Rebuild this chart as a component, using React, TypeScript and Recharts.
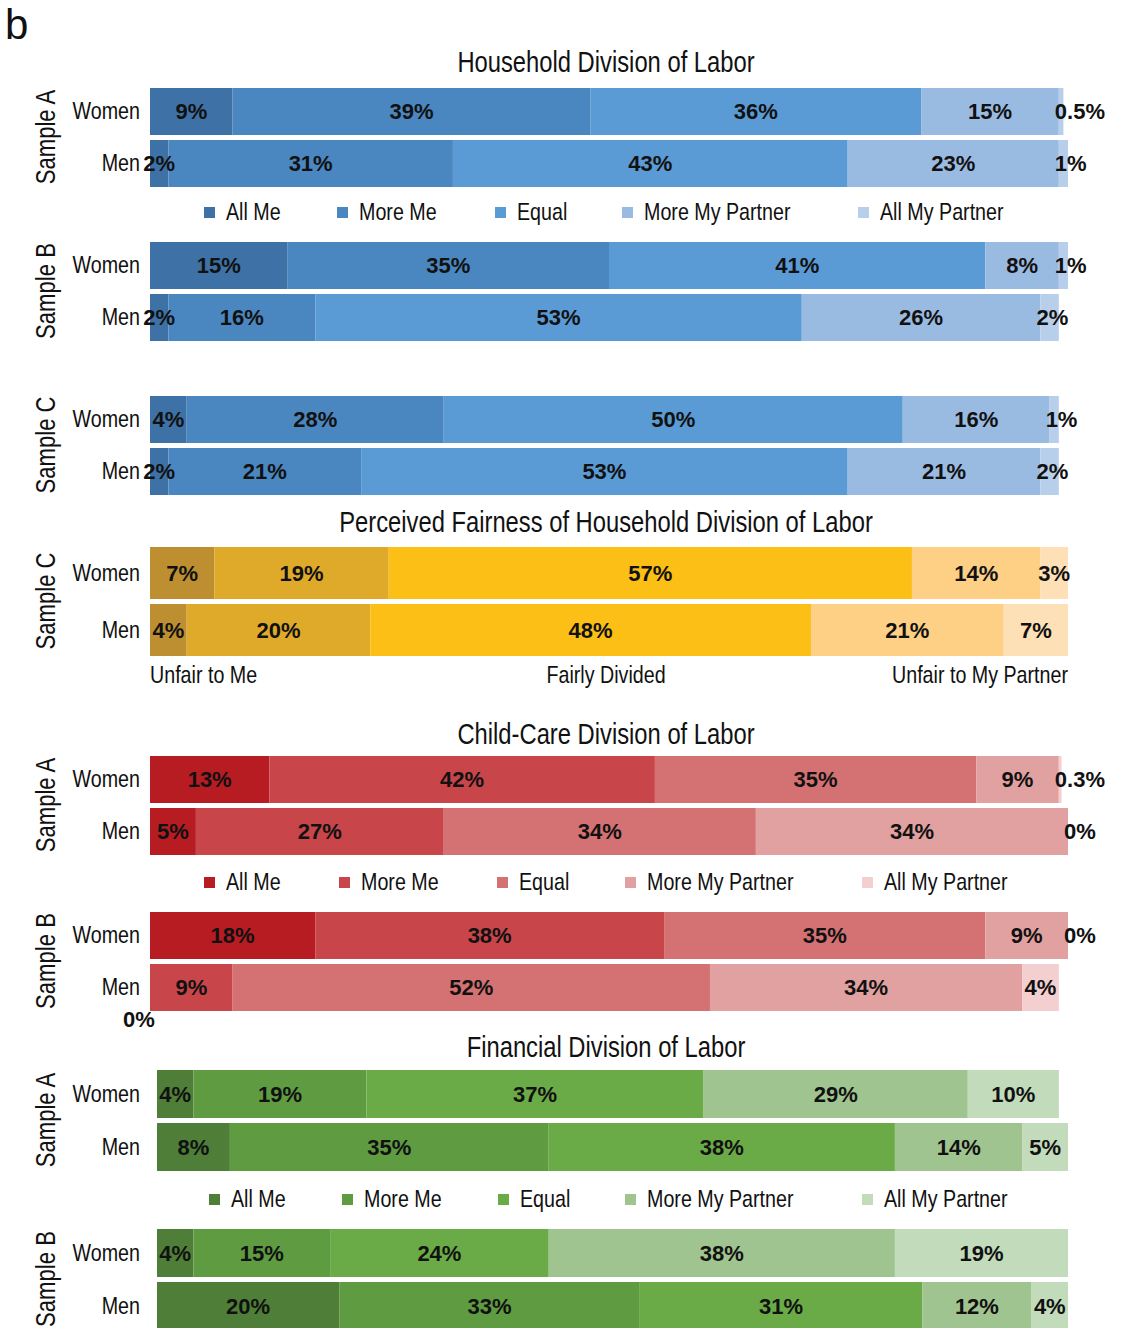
import React from "react";
import { BarChart, Bar, XAxis, YAxis, LabelList } from "recharts";

// ---- categories & labels ----
const groups = ["Women", "Men"];
const answerLabels = ["All Me", "More Me", "Equal", "More My Partner", "All My Partner"];
const fairnessAxisLabels = ["Unfair to Me", "Fairly Divided", "Unfair to My Partner"];
const sectionTitles = [
  "Household Division of Labor",
  "Perceived Fairness of Household Division of Labor",
  "Child-Care Division of Labor",
  "Financial Division of Labor",
];

// ---- household division of labor (%) ----
const householdAWomen = [9, 39, 36, 15, 0.5];
const householdAMen = [2, 31, 43, 23, 1];
const householdBWomen = [15, 35, 41, 8, 1];
const householdBMen = [2, 16, 53, 26, 2];
const householdCWomen = [4, 28, 50, 16, 1];
const householdCMen = [2, 21, 53, 21, 2];

// ---- perceived fairness (%) ----
const fairnessCWomen = [7, 19, 57, 14, 3];
const fairnessCMen = [4, 20, 48, 21, 7];

// ---- child-care division of labor (%) ----
const childAWomen = [13, 42, 35, 9, 0.3];
const childAMen = [5, 27, 34, 34, 0];
const childBWomen = [18, 38, 35, 9, 0];
const childBMen = [0, 9, 52, 34, 4];

// ---- financial division of labor (%) ----
const financialAWomen = [4, 19, 37, 29, 10];
const financialAMen = [8, 35, 38, 14, 5];
const financialBWomen = [4, 15, 24, 38, 19];
const financialBMen = [20, 33, 31, 12, 4];

// ---- palettes ----
const blue = ["#3e72a6", "#4a87c1", "#5b9bd5", "#9abbe1", "#b8cfec"];
const gold = ["#bd8f31", "#dfaa2a", "#fbbf15", "#fdd086", "#fde0b5"];
const red = ["#b71c23", "#c84549", "#d47273", "#e2a1a1", "#f4cfcf"];
const green = ["#4e7e37", "#5f9b41", "#6bab47", "#a0c48f", "#c2dbba"];

const W = 1129;
const H = 1328;
const SANS = '"Liberation Sans", Arial, sans-serif';
const SX = 0.82; // horizontal squeeze giving a narrow face
const INK = "#111";
const GAP = 5;
const PLOT_RIGHT = 1068;
const keys = ["s0", "s1", "s2", "s3", "s4"];

type PanelCfg = {
  top: number;
  sample: string;
  women: number[];
  men: number[];
  colors: string[];
  plotLeft: number;
  barSize: number;
};

const panels: PanelCfg[] = [
  { top: 85, sample: "Sample A", women: householdAWomen, men: householdAMen, colors: blue, plotLeft: 150, barSize: 47 },
  { top: 239, sample: "Sample B", women: householdBWomen, men: householdBMen, colors: blue, plotLeft: 150, barSize: 47 },
  { top: 393, sample: "Sample C", women: householdCWomen, men: householdCMen, colors: blue, plotLeft: 150, barSize: 47 },
  { top: 544, sample: "Sample C", women: fairnessCWomen, men: fairnessCMen, colors: gold, plotLeft: 150, barSize: 52 },
  { top: 753, sample: "Sample A", women: childAWomen, men: childAMen, colors: red, plotLeft: 150, barSize: 47 },
  { top: 909, sample: "Sample B", women: childBWomen, men: childBMen, colors: red, plotLeft: 150, barSize: 47 },
  { top: 1067, sample: "Sample A", women: financialAWomen, men: financialAMen, colors: green, plotLeft: 157, barSize: 48 },
  { top: 1226, sample: "Sample B", women: financialBWomen, men: financialBMen, colors: green, plotLeft: 157, barSize: 48 },
];

// legend rows: palette, marker x positions, text baseline
const legends = [
  { colors: blue, xs: [204, 337, 495, 622, 858], baseline: 220 },
  { colors: red, xs: [204, 339, 497, 625, 862], baseline: 890 },
  { colors: green, xs: [209, 342, 498, 625, 862], baseline: 1207 },
];

const titleBaselines = [72, 532, 744, 1057];

function toRows(women: number[], men: number[]) {
  const mk = (group: string, v: number[]) => {
    const r: Record<string, any> = { group };
    v.forEach((x, i) => (r[keys[i]] = x));
    return r;
  };
  return [mk(groups[0], women), mk(groups[1], men)];
}

function estWidth(s: string, size = 22) {
  let w = 0;
  for (const c of s) w += c === "%" ? 0.889 : c === "." ? 0.278 : 0.556;
  return w * size;
}

type NarrowProps = {
  x: number;
  y: number;
  size: number;
  anchor?: "start" | "middle" | "end";
  rotate?: number;
  central?: boolean;
  children: React.ReactNode;
};

function NarrowText({ x, y, size, anchor = "start", rotate = 0, central = false, children }: NarrowProps) {
  return (
    <text
      transform={`translate(${x},${y}) rotate(${rotate}) scale(${SX},1)`}
      textAnchor={anchor}
      dominantBaseline={central ? "central" : "alphabetic"}
      fontFamily={SANS}
      fontSize={size}
      fill={INK}
    >
      {children}
    </text>
  );
}

function GroupTick(p: any) {
  return (
    <NarrowText x={Number(p.x)} y={Number(p.y)} size={24} anchor="end" central>
      {p.payload?.value}
    </NarrowText>
  );
}

function PctLabel(p: any) {
  const x = Number(p.x);
  const y = Number(p.y);
  const width = Number(p.width) || 0;
  const height = Number(p.height) || 0;
  const series: number = p.series;
  let value = p.value;
  if (Array.isArray(value)) value = value[1] - value[0];
  if (value == null || Number.isNaN(x)) return null;
  const text = `${value}%`;
  const tw = estWidth(text);
  let tx = x + width / 2;
  let ty = y + height / 2;
  let anchor: "middle" | "start" = "middle";
  if (value === 0 && series === 0) {
    // empty first segment: value written under the bar's left end
    tx = x - 11;
    ty = y + height + 8;
  } else if (series === keys.length - 1 && tw > width + 6) {
    // narrow end segment: text starts at the segment and runs past the bar end
    anchor = "start";
    tx = x - 4;
  }
  return (
    <text
      x={tx}
      y={ty}
      textAnchor={anchor}
      dominantBaseline="central"
      fontFamily={SANS}
      fontWeight="bold"
      fontSize={22}
      fill={INK}
    >
      {text}
    </text>
  );
}

function StackedPanel({ cfg }: { cfg: PanelCfg }) {
  const band = cfg.barSize + GAP;
  const plotH = band * 2;
  const extra = 30;
  const data = toRows(cfg.women, cfg.men);
  return (
    <div style={{ position: "absolute", left: 0, top: cfg.top, width: W, height: plotH + extra }}>
      <BarChart
        width={W}
        height={plotH + extra}
        data={data}
        layout="vertical"
        margin={{ top: 0, right: W - PLOT_RIGHT, bottom: extra, left: 0 }}
        barSize={cfg.barSize}
      >
        <XAxis type="number" domain={[0, 100]} hide allowDataOverflow />
        <YAxis
          type="category"
          dataKey="group"
          width={cfg.plotLeft}
          axisLine={false}
          tickLine={false}
          tickSize={0}
          tickMargin={cfg.plotLeft - 140}
          interval={0}
          tick={<GroupTick />}
        />
        {keys.map((k, i) => (
          <Bar
            key={k}
            dataKey={k}
            stackId="a"
            fill={cfg.colors[i]}
            minPointSize={0.01}
            isAnimationActive={false}
          >
            <LabelList dataKey={k} content={(p: any) => <PctLabel {...p} series={i} />} />
          </Bar>
        ))}
      </BarChart>
    </div>
  );
}

function Overlay() {
  return (
    <svg width={W} height={H} style={{ position: "absolute", left: 0, top: 0, pointerEvents: "none" }}>
      <text x={5} y={39} fontFamily={SANS} fontSize={42} fill={INK}>
        b
      </text>
      {sectionTitles.map((t, i) => (
        <NarrowText key={t} x={606} y={titleBaselines[i]} size={29} anchor="middle">
          {t}
        </NarrowText>
      ))}
      {panels.map((cfg, i) => {
        const cy = cfg.top + cfg.barSize + GAP;
        return (
          <NarrowText key={i} x={46} y={cy} size={27} anchor="middle" rotate={-90} central>
            {cfg.sample}
          </NarrowText>
        );
      })}
      {legends.map((lg, li) =>
        answerLabels.map((name, i) => (
          <g key={`${li}-${i}`}>
            <rect x={lg.xs[i]} y={lg.baseline - 13} width={11} height={11} fill={lg.colors[i]} />
            <NarrowText x={lg.xs[i] + 22} y={lg.baseline} size={24}>
              {name}
            </NarrowText>
          </g>
        ))
      )}
      <NarrowText x={150} y={683} size={24}>
        {fairnessAxisLabels[0]}
      </NarrowText>
      <NarrowText x={606} y={683} size={24} anchor="middle">
        {fairnessAxisLabels[1]}
      </NarrowText>
      <NarrowText x={1068} y={683} size={24} anchor="end">
        {fairnessAxisLabels[2]}
      </NarrowText>
    </svg>
  );
}

export default function App() {
  return (
    <div
      style={{
        position: "absolute",
        left: 0,
        top: 0,
        width: W,
        height: H,
        background: "#fff",
        overflow: "hidden",
      }}
    >
      {panels.map((cfg, i) => (
        <StackedPanel key={i} cfg={cfg} />
      ))}
      <Overlay />
    </div>
  );
}
